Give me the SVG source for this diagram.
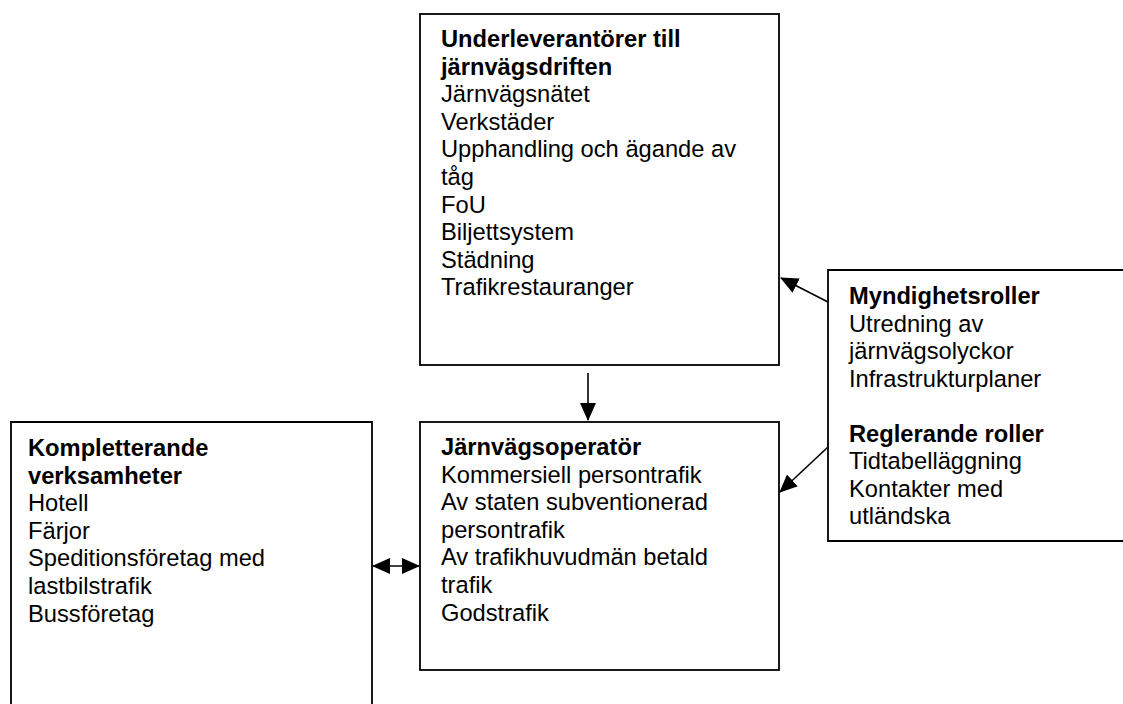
<svg xmlns="http://www.w3.org/2000/svg" width="1123" height="704" viewBox="0 0 1123 704">
<defs>
<style>
.box{fill:#fff;stroke:#000;stroke-width:1.8}
.t{font-family:"Liberation Sans",Arial,sans-serif;font-size:23.7px;fill:#000}
.b{font-weight:bold}
.c{stroke:#000;stroke-width:1.6;fill:none}
</style>
<marker id="ah" markerUnits="userSpaceOnUse" markerWidth="18" markerHeight="16" viewBox="0 0 18 16" refX="17" refY="8" orient="auto-start-reverse">
<path d="M0,0 L18,8 L0,16 Z" fill="#000"/>
</marker>
</defs>
<rect width="1123" height="704" fill="#fff"/>
<g id="connectors">
<line class="c" x1="588" y1="373" x2="588" y2="420" marker-end="url(#ah)"/>
<line class="c" x1="373" y1="566" x2="419" y2="566" marker-start="url(#ah)" marker-end="url(#ah)"/>
<line class="c" x1="828" y1="302" x2="781" y2="278" marker-end="url(#ah)"/>
<line class="c" x1="828" y1="447" x2="780" y2="492" marker-end="url(#ah)"/>
</g>
<g id="underleverantorer">
<rect class="box" x="420" y="14" width="359" height="351"/>
<text class="t b" x="441" y="47">Underleverantörer till</text>
<text class="t b" x="441" y="74.6">järnvägsdriften</text>
<text class="t" x="441" y="102.2">Järnvägsnätet</text>
<text class="t" x="441" y="129.8">Verkstäder</text>
<text class="t" x="441" y="157.4">Upphandling och ägande av</text>
<text class="t" x="441" y="185">tåg</text>
<text class="t" x="441" y="212.6">FoU</text>
<text class="t" x="441" y="240.2">Biljettsystem</text>
<text class="t" x="441" y="267.8">Städning</text>
<text class="t" x="441" y="295.4">Trafikrestauranger</text>
</g>
<g id="jarnvagsoperator">
<rect class="box" x="420" y="422" width="359" height="248"/>
<text class="t b" x="441" y="455">Järnvägsoperatör</text>
<text class="t" x="441" y="482.6">Kommersiell persontrafik</text>
<text class="t" x="441" y="510.2">Av staten subventionerad</text>
<text class="t" x="441" y="537.8">persontrafik</text>
<text class="t" x="441" y="565.4">Av trafikhuvudmän betald</text>
<text class="t" x="441" y="593">trafik</text>
<text class="t" x="441" y="620.6">Godstrafik</text>
</g>
<g id="kompletterande">
<path class="box" d="M11,710 L11,422 L372,422 L372,710"/>
<text class="t b" x="28" y="456">Kompletterande</text>
<text class="t b" x="28" y="483.6">verksamheter</text>
<text class="t" x="28" y="511.2">Hotell</text>
<text class="t" x="28" y="538.8">Färjor</text>
<text class="t" x="28" y="566.4">Speditionsföretag med</text>
<text class="t" x="28" y="594">lastbilstrafik</text>
<text class="t" x="28" y="621.6">Bussföretag</text>
</g>
<g id="myndighetsroller">
<path class="box" d="M1130,270 L828,270 L828,541 L1130,541"/>
<text class="t b" x="849" y="304">Myndighetsroller</text>
<text class="t" x="849" y="331.5">Utredning av</text>
<text class="t" x="849" y="359">järnvägsolyckor</text>
<text class="t" x="849" y="386.5">Infrastrukturplaner</text>
<text class="t b" x="849" y="441.5">Reglerande roller</text>
<text class="t" x="849" y="469">Tidtabelläggning</text>
<text class="t" x="849" y="496.5">Kontakter med</text>
<text class="t" x="849" y="524">utländska</text>
</g>
</svg>
